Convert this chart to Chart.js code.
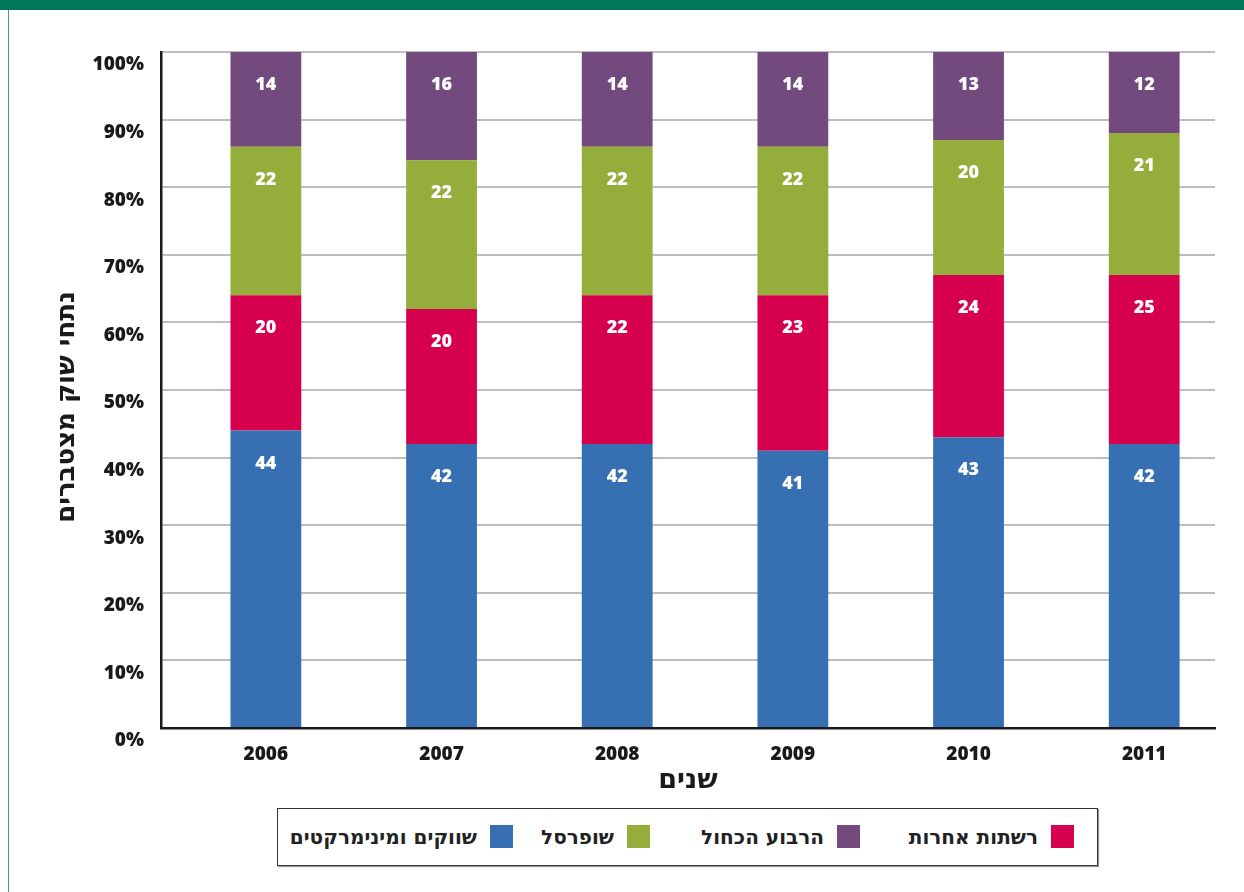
<!DOCTYPE html>
<html lang="he">
<head>
    <meta charset="UTF-8">
    <title>נתחי שוק מצטברים</title>
    <script src="https://cdn.jsdelivr.net/npm/chart.js"></script>
    <style>
        body {
            margin: 0;
            width: 1244px;
            height: 892px;
            background: #ffffff;
            font-family: 'DejaVu Sans', sans-serif;
            position: relative;
            overflow: hidden;
        }
        .topband {
            position: absolute;
            left: 0; top: 0;
            width: 1244px; height: 10px;
            background: #00775a;
        }
        .leftline {
            position: absolute;
            left: 8px; top: 10px;
            width: 1px; height: 882px;
            background: #3f9c82;
        }
        .chart-box {
            position: absolute;
            left: 0; top: 10px;
            width: 1244px; height: 790px;
        }
        .legend {
            position: absolute;
            left: 277px; top: 808px;
            width: 821px; height: 58px;
            border: 1.5px solid #333;
            box-shadow: 1px 1px 1px #999;
            box-sizing: border-box;
        }
        .item {
            position: absolute;
            top: 0;
            height: 55px;
            display: flex;
            align-items: center;
            direction: rtl;
        }
        .sw {
            width: 23px; height: 23px;
            margin-left: 13px;
        }
        .item span {
            font-family: 'DejaVu Sans', sans-serif;
            font-weight: 700;
            font-size: 20px;
            color: #222;
            white-space: nowrap;
        }
    </style>
</head>
<body>
    <div class="topband"></div>
    <div class="leftline"></div>
    <div class="chart-box">
        <canvas id="myChart" width="1244" height="790"></canvas>
    </div>
    <div class="legend" id="legend"></div>

    <script>
        // dati
        const anni = ['2006', '2007', '2008', '2009', '2010', '2011'];
        const shvakim = [44, 42, 42, 41, 43, 42];      // שווקים ומינימרקטים
        const reshatot = [20, 20, 22, 23, 24, 25];     // רשתות אחרות
        const shufersal = [22, 22, 22, 22, 20, 21];    // שופרסל
        const harivua = [14, 16, 14, 14, 13, 12];      // הרבוע הכחול
        const yTicks = [0, 10, 20, 30, 40, 50, 60, 70, 80, 90, 100];

        const titoloY = 'נתחי שוק מצטברים';
        const titoloX = 'שנים';
        const nomi = ['שווקים ומינימרקטים', 'רשתות אחרות', 'שופרסל', 'הרבוע הכחול'];
        const colori = ['#3670b2', '#d7004f', '#95ae3b', '#734a7e'];
        const ordineLegenda = [1, 3, 2, 0];
        const posLegenda = [23, 237, 447, 584]; // distanza dal bordo destro

        const fontNum = "'Open Sans', 'DejaVu Sans', sans-serif";
        const fontHeb = "'DejaVu Sans', sans-serif";

        // legenda html
        const leg = document.getElementById('legend');
        ordineLegenda.forEach((i, k) => {
            const it = document.createElement('div');
            it.className = 'item';
            it.style.right = posLegenda[k] + 'px';
            const sw = document.createElement('div');
            sw.className = 'sw';
            sw.style.background = colori[i];
            const t = document.createElement('span');
            t.textContent = nomi[i];
            it.appendChild(sw);
            it.appendChild(t);
            leg.appendChild(it);
        });

        // etichette dentro le barre + titolo asse y
        const etichette = {
            id: 'etichette',
            afterDatasetsDraw(chart) {
                const ctx = chart.ctx;
                ctx.save();
                ctx.fillStyle = '#ffffff';
                ctx.font = '800 18px ' + fontNum;
                ctx.textAlign = 'center';
                ctx.textBaseline = 'middle';
                chart.data.datasets.forEach((ds, di) => {
                    chart.getDatasetMeta(di).data.forEach((bar, j) => {
                        ctx.fillText(String(ds.data[j].y), bar.x, bar.y + 33);
                    });
                });
                ctx.restore();

                // titolo asse y, un po' sotto il centro
                const ca = chart.chartArea;
                ctx.save();
                ctx.translate(67, (ca.top + ca.bottom) / 2 + 17);
                ctx.rotate(-Math.PI / 2);
                ctx.fillStyle = '#1a1a1a';
                ctx.font = 'bold 26px ' + fontHeb;
                ctx.textAlign = 'center';
                ctx.textBaseline = 'middle';
                ctx.fillText(titoloY, 0, 0);
                ctx.restore();
            }
        };

        const serie = [shvakim, reshatot, shufersal, harivua];

        const ctx = document.getElementById('myChart').getContext('2d');
        const myChart = new Chart(ctx, {
            type: 'bar',
            data: {
                datasets: serie.map((d, i) => ({
                    label: nomi[i],
                    data: d.map((v, j) => ({ x: j, y: v })),
                    backgroundColor: colori[i],
                    borderWidth: 0,
                    stack: 'tot',
                    categoryPercentage: 1,
                    barPercentage: 0.403
                }))
            },
            options: {
                responsive: false,
                animation: false,
                layout: {
                    padding: { left: 50, right: 29, top: 42, bottom: 0 }
                },
                plugins: {
                    legend: { display: false },
                    tooltip: { enabled: false }
                },
                scales: {
                    x: {
                        type: 'linear',
                        offset: false,
                        min: -0.597,
                        max: 5.403,
                        afterBuildTicks: (s) => { s.ticks = anni.map((a, j) => ({ value: j })); },
                        grid: { display: false, drawTicks: false, offset: false },
                        border: { color: '#1a1a1a', width: 2.5 },
                        ticks: {
                            color: '#1a1a1a',
                            padding: 15,
                            maxRotation: 0,
                            callback: (v) => anni[v],
                            font: { family: fontNum, size: 19, weight: '800' }
                        },
                        title: {
                            display: true,
                            text: titoloX,
                            color: '#1a1a1a',
                            padding: { top: 0, bottom: 3 },
                            font: { family: fontHeb, size: 27, weight: 'bold' }
                        },
                        afterFit: (s) => { s.height = 72; }
                    },
                    y: {
                        stacked: true,
                        min: 0,
                        max: 100,
                        afterBuildTicks: (s) => { s.ticks = yTicks.map(v => ({ value: v })); },
                        grid: { color: '#bdbdbd', lineWidth: 2, drawTicks: false },
                        border: { color: '#1a1a1a', width: 2.5 },
                        ticks: {
                            color: '#1a1a1a',
                            padding: 17,
                            labelOffset: 13,
                            callback: (v) => v + '%',
                            font: { family: fontNum, size: 19, weight: '800' }
                        },
                        title: { display: false },
                        afterFit: (s) => { s.width = 111; }
                    }
                }
            },
            plugins: [etichette]
        });
    </script>
</body>
</html>
